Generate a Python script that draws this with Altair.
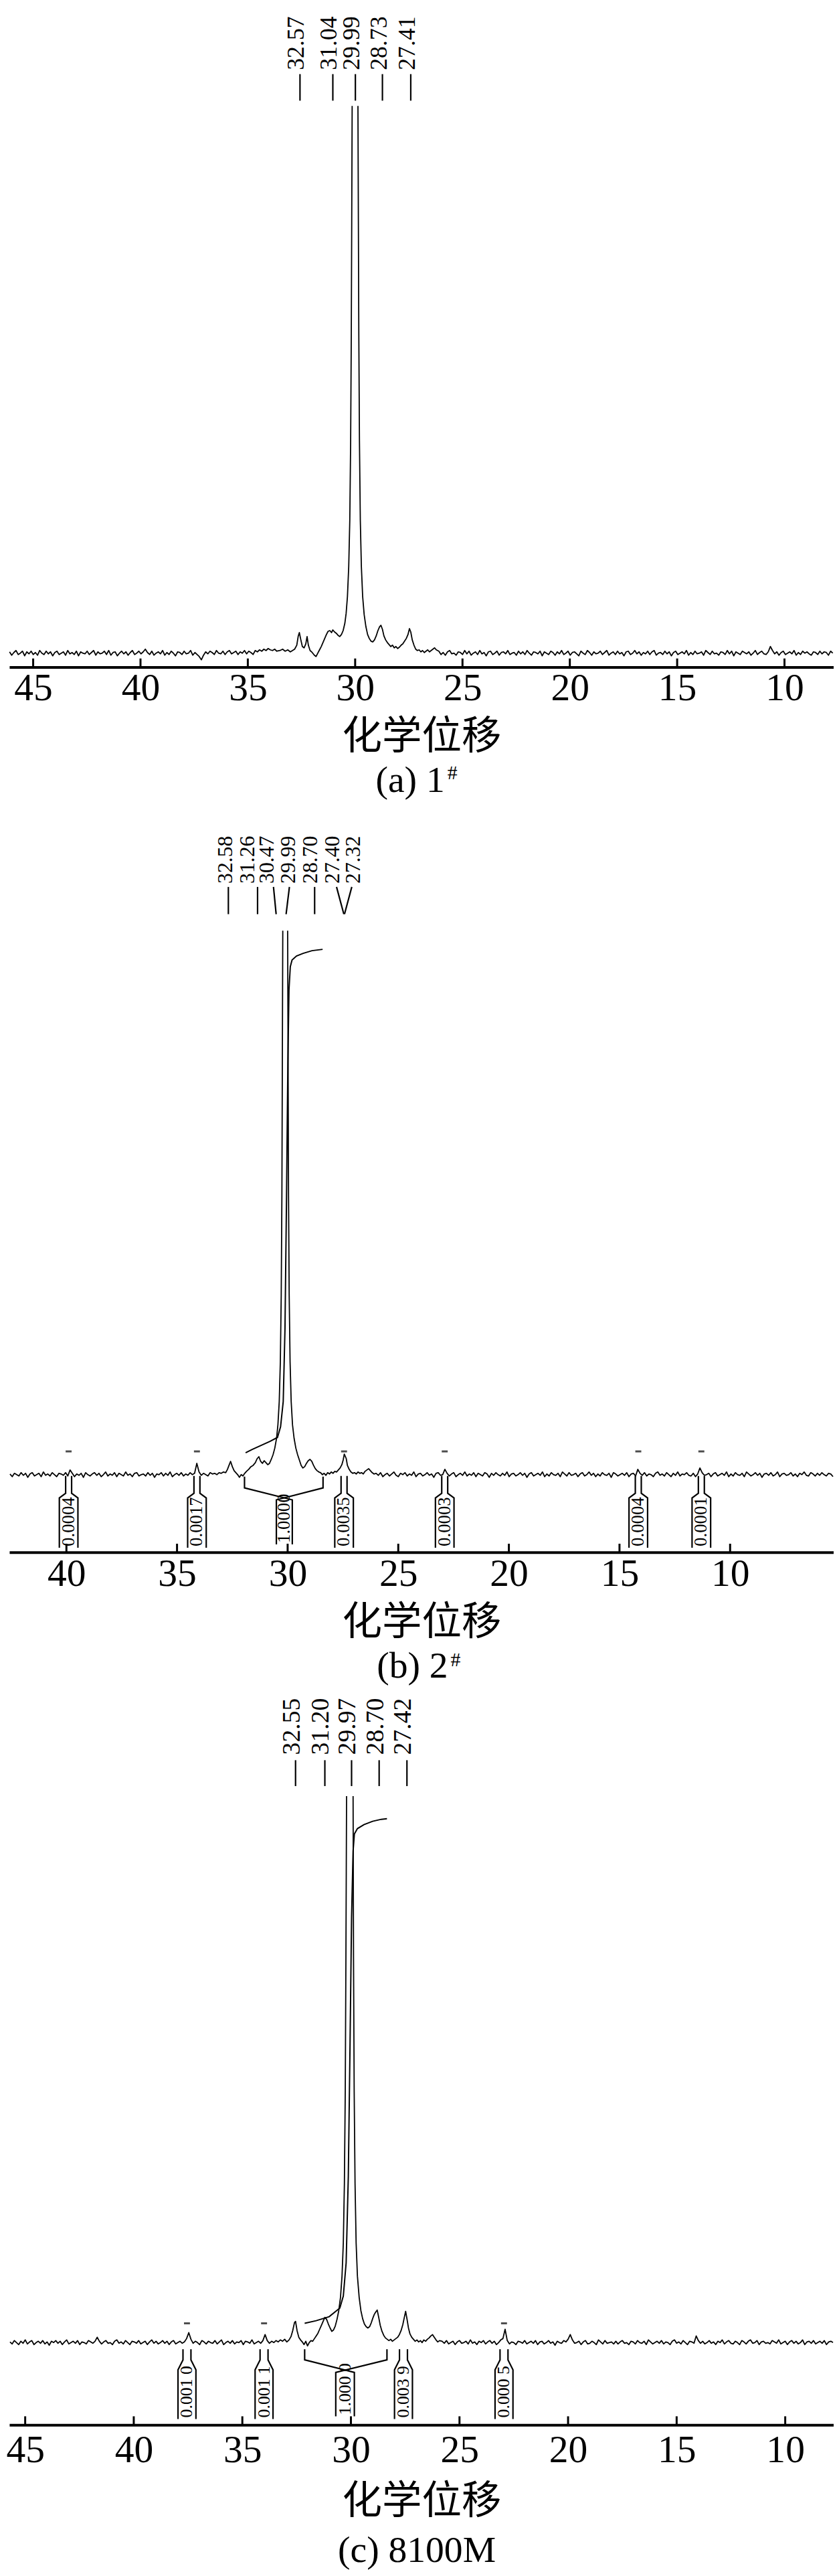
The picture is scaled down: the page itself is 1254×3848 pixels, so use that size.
import altair as alt
import numpy as np
import pandas as pd

SERIF = "Liberation Serif"
CJK = "Noto Sans CJK SC"
INK = "#000000"
WIDTH = 1242

AXIS_TITLE = "化学位移"

# ---------------- panel (a) 1# ----------------
a_domain = [46.11, 7.71]
a_ticks = [45, 40, 35, 30, 25, 20, 15, 10]
a_left_span = (46.10, 33.65)
a_left = [2, -3, 1, 4, -2, 0, 3, -4, 2, -1, 3, -2, 1, -3, 4, 0, -2, 3, -1, 2,
          -4, 1, 3, -2, 0, 2, -3, 4, -1, 1, -2, 3, -4, 2, 0, -1, 3, -2, 1, 4,
          -3, 2, -1, 0, 3, -2, 4, -3, 1, 2, -4, 0, 3, -1, 2, -3, 1, 4, -2, 0,
          3, -1, 2, 6, 1, -2, 3, -3, 0, 2, -1, 4, -3, 1, -2, 3, 0, -4, 2, 1,
          -2, 3, -1, 0, 4, -3, 1, -2, -5, -10, -3, 2, -1, 3, 1, -2, 4, 0, -1, 3,
          -2, 2, 4, -1, 1, 3, -2, 2, 0, 4, -1, 3, 1, -2, 4, 2, 5, 3, 6, 4,
          7, 5, 4, 6, 3]
a_up_ppm = [33.50, 33.38, 33.26, 33.14, 33.02, 32.92, 32.82, 32.72, 32.65, 32.60,
            32.53, 32.46, 32.38, 32.30, 32.24, 32.18, 32.10, 32.00, 31.90, 31.82,
            31.74, 31.66, 31.58, 31.50, 31.42, 31.34, 31.26, 31.18, 31.10, 31.04,
            30.96, 30.88, 30.80, 30.72, 30.64, 30.56, 30.48, 30.42, 30.36, 30.30,
            30.25, 30.21, 30.18, 30.16, 30.14]
a_up_val = [4, 6, 3, 5, 2, 4, 6, 12, 26, 31, 20, 10, 8, 14, 25, 12, 4, 1, -3, -5,
            0, 5, 10, 16, 22, 28, 33, 34, 31, 35, 32, 30, 27, 25, 28, 34, 45, 60, 85, 130,
            200, 320, 480, 650, 824]
a_down_ppm = [29.87, 29.85, 29.83, 29.80, 29.76, 29.71, 29.65, 29.58, 29.50, 29.42,
              29.34, 29.26, 29.18, 29.10, 29.02, 28.94, 28.86, 28.80, 28.73, 28.66,
              28.58, 28.50, 28.42, 28.34, 28.26, 28.18, 28.10, 28.02, 27.94, 27.86,
              27.78, 27.70, 27.62, 27.54, 27.47, 27.41, 27.34, 27.26, 27.18, 27.10,
              27.02, 26.94, 26.86, 26.78, 26.70, 26.62, 26.54, 26.46, 26.38, 26.30, 26.22]
a_down_val = [824, 650, 480, 320, 200, 130, 85, 58, 40, 28, 22, 18, 17, 20, 26, 34, 40, 42, 36, 26,
              20, 16, 13, 10, 12, 8, 10, 7, 9, 12, 14, 18, 22, 28, 37, 32, 20, 12, 6, 4,
              5, 2, 4, 1, 3, 5, 2, 4, 6, 8, 5]
a_right_span = (26.10, 7.75)
a_right = [3, -2, 1, -3, 2, 4, -1, 0, -3, 2, 1, -2, 4, -1, 3, -3, 0, 2, -2, 4,
           -1, 1, -4, 2, 3, -2, 0, 3, -3, 1, 2, -1, 4, -2, 0, 1, -3, 3, -1, 2,
           -2, 4, 0, -3, 2, 1, -1, 3, -4, 2, 0, -2, 3, 1, -3, 2, -1, 4, -2, 0,
           3, -3, 1, 2, -1, -4, 3, 0, -2, 4, 1, -3, 2, -1, 0, 3, -2, 1, 4, -3,
           0, 2, -2, 3, -1, 1, -4, 2, 3, -2, 0, 4, -1, 2, -3, 1, -1, 3, -2, 2,
           4, -3, 0, 1, -2, 3, -1, 2, -4, 1, 3, -2, 0, 2, -1, 4, -3, 1, -2, 3,
           -1, 0, 2, -3, 4, 1, -2, 3, -1, 0, -3, 2, 1, -2, 4, -1, 3, -4, 2, 0,
           -2, 3, 1, -1, 2, -3, 0, 4, -2, 1, 3, -1, -2, 2, 10, 4, -1, 2, -3, 1,
           3, -2, 0, 2, -1, 4, -3, 1, -2, 3, 0, 2, -1, -3, 2, 1, -2, 3, -1, 2,
           1, -3, 3, 0]
a_label_text = ["32.57", "31.04", "29.99", "28.73", "27.41"]
a_label_top = [32.57, 31.04, 29.99, 28.73, 27.41]
a_label_bot = [32.57, 31.04, 29.99, 28.73, 27.41]

# ---------------- panel (b) 2# ----------------
b_domain = [42.58, 5.32]
b_ticks = [40, 35, 30, 25, 20, 15, 10]
b_left_span = (42.55, 33.10)
b_left = [1, -3, 2, 0, -2, 3, -1, 2, -4, 1, 3, -2, 0, 2, -3, 4, -1, 1, -2, 3,
          0, -3, 2, 1, -1, 3, -2, 7, 2, -3, 1, -1, 2, -4, 3, 0, -2, 1, 3, -1,
          2, -3, 0, 4, -2, 1, -1, 3, -3, 2, 0, -2, 4, -1, 1, -3, 2, 3, -2, 0,
          1, -2, 3, -1, 2, -4, 1, 0, 3, -2, 2, -1, 4, -3, 0, 2, -1, 3, -2, 1,
          -1, 3, 0, 2, 17, 4, -1, 2, 0, -2, 3, 1, 2, 0, 3]
b_up_ppm = [33.00, 32.90, 32.80, 32.72, 32.65, 32.58, 32.50, 32.42, 32.34, 32.26,
            32.18, 32.10, 32.02, 31.94, 31.86, 31.76, 31.66, 31.56, 31.46, 31.38,
            31.30, 31.22, 31.14, 31.06, 30.98, 30.90, 30.82, 30.74, 30.66, 30.58,
            30.50, 30.44, 30.38, 30.33, 30.29, 30.26, 30.24, 30.22]
b_up_val = [2, 4, 3, 8, 14, 20, 12, 6, 3, 0, -4, 0, -2, 2, 5, 8, 12, 14, 18, 24,
            27, 20, 17, 21, 18, 15, 17, 23, 30, 40, 55, 75, 110, 170, 270, 420, 620, 819]
b_down_ppm = [30.00, 29.98, 29.96, 29.93, 29.89, 29.84, 29.78, 29.71, 29.63, 29.55,
              29.47, 29.39, 29.31, 29.23, 29.15, 29.07, 28.99, 28.91, 28.83, 28.75,
              28.67, 28.59, 28.51, 28.43, 28.35, 28.27, 28.19, 28.11, 28.03, 27.95,
              27.87, 27.79, 27.71, 27.63, 27.55, 27.49, 27.44, 27.40, 27.35, 27.30,
              27.22, 27.14, 27.06, 26.98, 26.90, 26.82, 26.74, 26.66, 26.58, 26.50,
              26.42, 26.34, 26.26, 26.18, 26.10]
b_down_val = [819, 620, 420, 270, 170, 110, 75, 55, 40, 30, 22, 14, 10, 12, 17, 21, 23, 20, 14, 9,
              6, 4, 3, 0, 2, -1, 3, 1, 4, 2, 5, 4, 7, 10, 15, 22, 31, 28, 24, 14,
              8, 4, 2, 3, 1, 4, 2, 3, 1, 5, 7, 9, 6, 3, 1]
b_right_span = (26.00, 5.35)
b_right = [2, -1, 3, -3, 0, 2, -2, 1, 4, -1, -3, 2, 0, 3, -2, 1, -1, 4, -3, 1,
           2, -2, 0, 3, -1, 1, -4, 2, 3, -1, 0, 8, 2, -2, 1, 3, -3, 0, 2, -1,
           4, -2, 1, -1, 3, -3, 2, 0, -2, 3, 1, -4, 2, -1, 3, 0, -2, 2, -1, 4,
           -3, 1, 2, -2, 0, 3, -1, 2, -4, 1, 3, -2, 0, 2, -1, 4, -3, 1, -2, 3,
           0, -1, 2, -3, 4, 1, -2, 3, -1, 0, 2, -3, 1, 3, -2, 0, 4, -1, 2, -3,
           1, -2, 3, 0, -1, 2, -4, 3, 1, -2, 0, 2, -1, 3, -3, 1, 2, -2, 8, 2,
           -1, 3, -2, 1, 0, -3, 2, 4, -1, 1, -2, 3, 0, -3, 2, -1, 4, -2, 1, 0,
           3, -1, -2, 2, -3, 1, 10, 3, -1, 0, 2, -3, 1, 3, -2, 0, 2, -1, 4, -3,
           1, -2, 3, 0, -1, 2, -3, 4, 1, -2, 0, 3, -1, 2, -4, 1, 2, -1, 3, -2,
           0, 4, -3, 1, 2, -1, 0, 3, -2, 1, -3, 2, 0, 4, -1, -2, 3, 1, -2, 2,
           -1, 3, 0, -2, 2, 1, -3]
b_label_text = ["32.58", "31.26", "30.47", "29.99", "28.70", "27.40", "27.32"]
b_label_text_ppm = [32.80, 31.80, 30.94, 29.98, 28.96, 27.97, 27.04]
b_label_top = [32.68, 31.36, 30.64, 29.92, 28.78, 27.79, 27.10]
b_label_bot = [32.68, 31.36, 30.52, 30.07, 28.78, 27.46, 27.43]
b_int_ppm = [31.90, 31.60, 31.20, 30.80, 30.46, 30.32, 30.20, 30.12, 30.05, 29.99,
             29.94, 29.88, 29.80, 29.60, 29.30, 28.90, 28.42]
b_int_val = [33, 38, 44, 50, 56, 72, 110, 220, 420, 620, 730, 765, 775, 781, 785, 789, 791]
b_box_ppm = [39.90, 34.10, 27.45, 22.90, 14.15, 11.30]
b_box_text = ["0.0004", "0.0017", "0.0035", "0.0003", "0.0004", "0.0001"]
b_bracket = [31.95, 28.40, 30.15]
b_bracket_text = "1.0000"
b_dash_ppm = [39.90, 34.10, 27.45, 22.90, 14.15, 11.30]

# ---------------- panel (c) 8100M ----------------
c_domain = [45.73, 7.77]
c_ticks = [45, 40, 35, 30, 25, 20, 15, 10]
c_left_span = (45.70, 33.25)
c_left = [1, -2, 3, 0, -3, 2, -1, 4, -2, 1, 3, -3, 0, 2, -1, 3, -2, 1, -4, 2,
          0, 3, -1, 2, -3, 1, 4, -2, 0, 2, -1, 3, -3, 1, 0, -2, 3, 1, -1, 2,
          8, 2, -2, 1, 3, -1, 0, -3, 2, 4, -1, 1, -2, 3, 0, -3, 2, 1, -1, 3,
          -2, 0, 2, -3, 1, 4, -1, 2, -2, 0, 3, -1, 2, -3, 1, 3, -2, 0, 2, -1,
          1, 6, 15, 5, -1, 2, 0, -3, 3, 1, -2, 2, 0, -1, 3, -2, 1, 4, -3, 0,
          2, -1, 3, -2, 1, 0, 3, -3, 2, 1, -1, 4, -2, 0, 2, -1, 3, 12, 3, -1,
          2, 0, 3, 1, 4]
c_up_ppm = [33.15, 33.05, 32.95, 32.85, 32.76, 32.68, 32.60, 32.55, 32.48, 32.40,
            32.32, 32.24, 32.16, 32.08, 32.00, 31.92, 31.84, 31.76, 31.68, 31.60,
            31.52, 31.44, 31.36, 31.28, 31.20, 31.12, 31.04, 30.96, 30.88, 30.80,
            30.72, 30.64, 30.56, 30.48, 30.41, 30.35, 30.30, 30.26, 30.23, 30.20]
c_up_val = [2, 5, 1, 4, 9, 18, 30, 32, 18, 8, 4, 1, -3, 2, -5, 0, 3, 2, 6, 10,
            14, 20, 26, 32, 38, 35, 28, 22, 17, 19, 25, 35, 48, 68, 100, 150, 240, 380, 580, 823]
c_down_ppm = [29.90, 29.88, 29.85, 29.81, 29.76, 29.70, 29.62, 29.54, 29.46, 29.38,
              29.30, 29.22, 29.14, 29.06, 29.00, 28.93, 28.86, 28.79, 28.72, 28.65,
              28.57, 28.49, 28.41, 28.33, 28.25, 28.17, 28.09, 28.01, 27.93, 27.85,
              27.77, 27.69, 27.61, 27.54, 27.48, 27.42, 27.35, 27.28, 27.20, 27.12,
              27.04, 26.96, 26.88, 26.80, 26.72, 26.64, 26.56, 26.48, 26.40, 26.32,
              26.24, 26.16, 26.08, 26.00, 25.92]
c_down_val = [823, 580, 380, 240, 150, 100, 68, 48, 36, 28, 24, 22, 24, 30, 36, 42, 46, 49, 38, 26,
              17, 11, 7, 5, 3, 5, 2, 4, 6, 8, 12, 18, 27, 38, 47, 36, 22, 13, 8, 5,
              2, 4, 1, 3, 0, 4, 2, 5, 7, 10, 12, 8, 4, 1, 3]
c_right_span = (25.80, 7.80)
c_right = [2, -1, 3, -2, 0, 2, -3, 1, 3, -1, 0, 2, -2, 4, -1, 1, -3, 2, 0, 3,
           -2, 1, 3, -1, 2, -3, 0, 4, 6, 20, 3, -2, 1, 0, -3, 2, 1, -1, 3, -2,
           0, 2, -1, 3, -3, 1, 2, -2, 0, 3, -1, 1, -4, 2, 0, -1, 3, 1, 5, 12,
           4, -1, 0, 2, -3, 1, 3, -2, -1, 2, 0, -3, 4, 1, -2, 3, -1, 0, 1, -2,
           2, -2, 1, 3, -1, 0, -3, 2, 1, -2, 3, 0, -1, 2, -3, 4, 1, -2, 0, 2,
           -1, 3, -2, 1, 0, -3, 2, 4, -1, 1, -2, 3, 0, -3, 2, 1, -1, 10, 3, -1,
           2, -2, 0, 3, -1, 1, -3, 2, 0, 4, -2, 1, 3, -1, -2, 2, 0, -3, 3, 1,
           -2, 2, 4, -1, 0, 3, -3, 1, 2, -1, 0, -2, 3, 1, -1, 4, -2, 0, 2, -3,
           1, 3, -1, 2, -2, 0, 4, -3, 1, 2, -1, 3, -2, 0, 2, -1, 3, -3, 1, 2,
           0]
c_label_text = ["32.55", "31.20", "29.97", "28.70", "27.42"]
c_label_top = [32.55, 31.20, 29.97, 28.70, 27.42]
c_label_bot = [32.55, 31.20, 29.97, 28.70, 27.42]
c_int_ppm = [32.13, 31.60, 31.00, 30.51, 30.35, 30.22, 30.12, 30.04, 29.97, 29.90,
             29.84, 29.70, 29.40, 29.00, 28.60, 28.34]
c_int_val = [29, 33, 39, 52, 70, 120, 250, 450, 640, 740, 766, 774, 780, 785, 788, 789]
c_box_ppm = [37.55, 34.00, 27.58, 22.95]
c_box_text = ["0.001 0", "0.001 1", "0.003 9", "0.000 5"]
c_bracket = [32.13, 28.34, 30.27]
c_bracket_text = "1.000 0"
c_dash_ppm = [37.55, 34.00, 22.95]


def spectrum_df(left, left_span, up_ppm, up_val, down_ppm, down_val, right, right_span):
    rows = []
    i = 0
    for x, v in zip(np.linspace(left_span[0], left_span[1], len(left)), left):
        rows.append({"ppm": float(x), "v": v, "seg": "s0", "i": i}); i += 1
    for x, v in zip(up_ppm, up_val):
        rows.append({"ppm": x, "v": v, "seg": "s0", "i": i}); i += 1
    for x, v in zip(down_ppm, down_val):
        rows.append({"ppm": x, "v": v, "seg": "s1", "i": i}); i += 1
    for x, v in zip(np.linspace(right_span[0], right_span[1], len(right)), right):
        rows.append({"ppm": float(x), "v": v, "seg": "s1", "i": i}); i += 1
    return pd.DataFrame(rows)


def panel(P):
    dom, H = P["domain"], P["height"]
    ppx = WIDTH / (dom[0] - dom[1])  # pixels per ppm
    xs = alt.Scale(domain=dom, nice=False, zero=False)
    ys = alt.Scale(domain=P["ydom"], nice=False, zero=False)
    xax = alt.Axis(values=P["ticks"], format="d", ticks=False, tickSize=0, grid=False,
                   domainColor=INK, domainWidth=4, labelFont=SERIF, labelFontSize=58,
                   labelColor=INK, labelPadding=P["lp"], labelFlush=False, labelOverlap=False,
                   title=AXIS_TITLE, titleFont=CJK, titleFontSize=60, titleFontWeight="normal",
                   titleColor=INK, titlePadding=P["tp"])

    def X():
        return alt.X("ppm:Q", scale=xs, axis=xax)

    def Y():
        return alt.Y("v:Q", scale=ys, axis=None)

    layers = []
    spec = spectrum_df(*P["spec"])
    layers.append(alt.Chart(spec).mark_line(color=INK, strokeWidth=1.8, strokeJoin="round").encode(
        x=X(), y=Y(), detail="seg:N", order=alt.Order("i:Q")))

    ticks = pd.DataFrame({"ppm": P["ticks"]})
    layers.append(alt.Chart(ticks).mark_rule(color=INK, strokeWidth=3).encode(
        x=X(), y=alt.value(H - 13), y2=alt.value(H)))

    # peak label connectors, integral boxes and bracket
    lo, hi = P["label_y"]
    segs = []
    for k, (t, b) in enumerate(zip(P["label_top"], P["label_bot"])):
        segs.append({"ppm": b, "v": lo, "seg": f"l{k}", "i": 0})
        segs.append({"ppm": t, "v": hi, "seg": f"l{k}", "i": 1})
    if "boxes" in P:
        top, nb, fb, bot = P["box_y"]
        n, w = P["box_half"][0] / ppx, P["box_half"][1] / ppx
        for k, c in enumerate(P["boxes"]):
            for side, sg in ((-1, "L"), (1, "R")):
                pts = [(c + side * n, top), (c + side * n, nb), (c + side * w, fb), (c + side * w, bot)]
                for j, (px_, py_) in enumerate(pts):
                    segs.append({"ppm": px_, "v": py_, "seg": f"b{k}{sg}", "i": j})
        L, R, C = P["bracket"]
        btop, bvb, bdb, bbot = P["bracket_y"]
        bw = P["bracket_half"] / ppx
        for edge, side, sg in ((L, -1, "L"), (R, 1, "R")):
            pts = [(edge, btop), (edge, bvb), (C + side * bw, bdb), (C + side * bw, bbot)]
            for j, (px_, py_) in enumerate(pts):
                segs.append({"ppm": px_, "v": py_, "seg": f"k{sg}", "i": j})
    layers.append(alt.Chart(pd.DataFrame(segs)).mark_line(color=INK, strokeWidth=2.2).encode(
        x=X(), y=Y(), detail="seg:N", order=alt.Order("i:Q")))

    text_ppm = P.get("label_text_ppm", [t + 5.0 / ppx for t in P["label_top"]])
    lab = pd.DataFrame({"ppm": text_ppm, "v": [hi] * len(text_ppm), "t": P["label_text"]})
    layers.append(alt.Chart(lab).mark_text(angle=270, align="left", baseline="middle",
                                           dx=P["label_gap"], font=SERIF,
                                           fontSize=P["label_fs"], color=INK).encode(
        x=X(), y=Y(), text="t:N"))

    if "boxes" in P:
        integ = pd.DataFrame({"ppm": P["int_ppm"], "v": P["int_val"], "i": list(range(len(P["int_ppm"])))})
        layers.append(alt.Chart(integ).mark_line(color=INK, strokeWidth=2).encode(
            x=X(), y=Y(), order=alt.Order("i:Q")))
        bt = pd.DataFrame({"ppm": P["boxes"] + [P["bracket"][2]],
                           "v": [P["box_y"][3]] * len(P["boxes"]) + [P["bracket_y"][3]],
                           "t": P["box_text"] + [P["bracket_text"]]})
        layers.append(alt.Chart(bt).mark_text(angle=270, align="left", baseline="middle", dx=2,
                                              font=SERIF, fontSize=P["box_fs"], color=INK).encode(
            x=X(), y=Y(), text="t:N"))
        dash = pd.DataFrame({"ppm": P["dash"], "v": [P["dash_y"]] * len(P["dash"])})
        layers.append(alt.Chart(dash).mark_tick(orient="horizontal", size=9, thickness=3, color=INK).encode(
            x=X(), y=Y()))

    # caption
    cap = P["caption"]
    layers.append(alt.Chart(pd.DataFrame({"t": [cap[0]]})).mark_text(
        align=cap[1], baseline="alphabetic", font=SERIF, fontSize=56, color=INK).encode(
        x=alt.value(cap[2]), y=alt.value(cap[3]), text="t:N"))
    if len(cap) > 4:
        layers.append(alt.Chart(pd.DataFrame({"t": [cap[4]]})).mark_text(
            align="left", baseline="alphabetic", font=SERIF, fontSize=30, color=INK).encode(
            x=alt.value(cap[5]), y=alt.value(cap[6]), text="t:N"))

    return alt.layer(*layers).properties(width=WIDTH, height=H)


PA = dict(domain=a_domain, ticks=a_ticks, height=981, ydom=[-21, 960], lp=3, tp=15,
          spec=(a_left, a_left_span, a_up_ppm, a_up_val, a_down_ppm, a_down_val, a_right, a_right_span),
          label_y=(832, 872), label_top=a_label_top, label_bot=a_label_bot, label_text=a_label_text,
          label_gap=6, label_fs=36,
          caption=["(a) 1", "right", 656, 1169, "#", 660, 1150])

PB = dict(domain=b_domain, ticks=b_ticks, height=1094, ydom=[-117, 977], lp=4, tp=15,
          spec=(b_left, b_left_span, b_up_ppm, b_up_val, b_down_ppm, b_down_val, b_right, b_right_span),
          label_y=(844, 885), label_top=b_label_top, label_bot=b_label_bot, label_text=b_label_text,
          label_text_ppm=b_label_text_ppm, label_gap=5, label_fs=32,
          boxes=b_box_ppm, box_text=b_box_text, box_y=(-2, -28, -35, -110), box_half=(4.5, 14),
          bracket=b_bracket, bracket_text=b_bracket_text, bracket_y=(-3, -20, -38, -105), bracket_half=12,
          int_ppm=b_int_ppm, int_val=b_int_val, box_fs=27, dash=b_dash_ppm, dash_y=35,
          caption=["(b) 2", "right", 661, 1283, "#", 665, 1266])

PC = dict(domain=c_domain, ticks=c_ticks, height=1100, ydom=[-124, 976], lp=10, tp=18,
          spec=(c_left, c_left_span, c_up_ppm, c_up_val, c_down_ppm, c_down_val, c_right, c_right_span),
          label_y=(838, 877), label_top=c_label_top, label_bot=c_label_bot, label_text=c_label_text,
          label_gap=8, label_fs=38,
          boxes=c_box_ppm, box_text=c_box_text, box_y=(-10, -26, -41, -115), box_half=(6, 13.5),
          bracket=c_bracket, bracket_text=c_bracket_text, bracket_y=(-10, -26, -45, -111), bracket_half=14,
          int_ppm=c_int_ppm, int_val=c_int_val, box_fs=26, dash=c_dash_ppm, dash_y=29,
          caption=["(c) 8100M", "center", 614, 1306])

top = alt.vconcat(panel(PA), panel(PB), spacing=40).resolve_scale(x="independent", y="independent")
chart = alt.vconcat(top, panel(PC), spacing=14).resolve_scale(x="independent", y="independent")
chart = chart.properties(padding={"left": 0, "top": 0, "right": 0, "bottom": 0}, background="white")
chart = chart.configure_view(stroke="transparent", strokeWidth=0)

chart.save("out.html", embed_options={"renderer": "svg", "actions": False})
